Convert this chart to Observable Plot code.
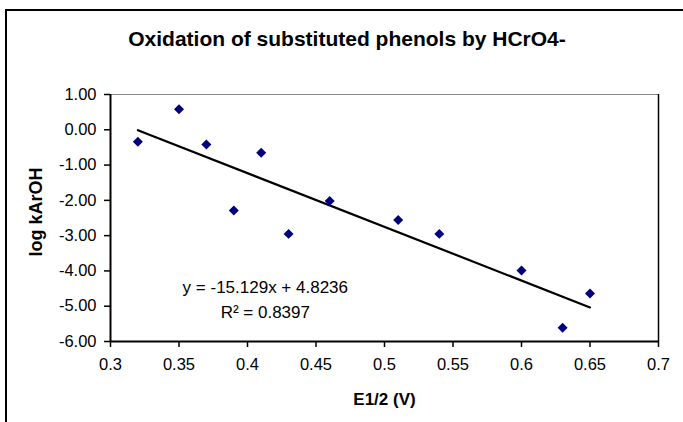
<!DOCTYPE html>
<html>
<head>
<meta charset="utf-8">
<script src="https://cdn.jsdelivr.net/npm/d3@7"></script>
<script src="https://cdn.jsdelivr.net/npm/@observablehq/plot@0.6"></script>
<style>
  html, body { margin: 0; padding: 0; background: #fff; }
  #chart { width: 683px; height: 422px; overflow: hidden; }
  svg { font-family: "Liberation Sans", Arial, sans-serif; }
</style>
</head>
<body>
<div id="chart"></div>
<script>
// Data
const potentials = [0.32, 0.35, 0.37, 0.39, 0.41, 0.43, 0.46, 0.51, 0.54, 0.60, 0.63, 0.65];
const logK       = [-0.34, 0.58, -0.42, -2.29, -0.65, -2.95, -2.02, -2.56, -2.95, -3.99, -5.61, -4.64];
const xTicks = [0.3, 0.35, 0.4, 0.45, 0.5, 0.55, 0.6, 0.65, 0.7];
const yTicks = [1, 0, -1, -2, -3, -4, -5, -6];
const titleText = "Oxidation of substituted phenols by HCrO4-";
const equationText = "y = -15.129x + 4.8236";
const r2Text = "R² = 0.8397";

const data = potentials.map((x, i) => ({x, y: logK[i]}));

const plot = Plot.plot({
  width: 683,
  height: 422,
  marginLeft: 110,
  marginRight: 25,
  marginTop: 94,
  marginBottom: 81,
  style: {fontFamily: "'Liberation Sans', Arial, sans-serif", fontSize: "16px", background: "#fff", color: "#000"},
  x: {domain: [0.3, 0.7]},
  y: {domain: [-6, 1]},
  marks: [
    Plot.ruleY([1], {stroke: "#888", strokeWidth: 1.2}),
    Plot.ruleX([0.7], {stroke: "#000", strokeWidth: 1.5}),
    Plot.axisX({ticks: xTicks, tickFormat: d => String(+d.toFixed(2)), tickSize: 6, tickPadding: 11,
      strokeWidth: 1.5, label: null, fontSize: 16.5}),
    Plot.axisY({ticks: yTicks, tickFormat: d => d.toFixed(2), tickSize: 6, tickPadding: 8,
      strokeWidth: 1.5, label: null, fontSize: 16.5}),
    Plot.text(["E1/2 (V)"], {frameAnchor: "bottom", dy: 63, text: d => d, fontSize: 17, fontWeight: "bold", fill: "#000"}),
    Plot.text(["log kArOH"], {frameAnchor: "left", dx: -74, dy: -6, rotate: -90, textAnchor: "middle", lineAnchor: "middle",
      text: d => d, fontSize: 18, fontWeight: "bold", fill: "#000"}),
    Plot.ruleX([0.3], {stroke: "#000", strokeWidth: 2}),
    Plot.ruleY([-6], {stroke: "#000", strokeWidth: 2}),
    Plot.linearRegressionY(data, {x: "x", y: "y", stroke: "#000", strokeWidth: 2.2, ci: 0}),
    Plot.dot(data, {x: "x", y: "y", symbol: "diamond2", r: 4.5, fill: "#000080", stroke: "none"}),
    Plot.text([equationText], {x: 0.413, y: -4.47, text: d => d, fontSize: 17, fill: "#000"}),
    Plot.text([r2Text], {x: 0.413, y: -5.18, text: d => d, fontSize: 17, fill: "#000"})
  ]
});

const svg = d3.select(plot);
// outer chart border
svg.insert("rect", ":first-child")
  .attr("x", 6).attr("y", 10).attr("width", 800).attr("height", 600)
  .attr("fill", "none").attr("stroke", "#000").attr("stroke-width", 2);
// chart title
svg.append("text")
  .attr("x", 347).attr("y", 46)
  .attr("text-anchor", "middle")
  .attr("font-weight", "bold")
  .attr("font-size", "21px")
  .attr("fill", "#000")
  .text(titleText);

document.getElementById("chart").appendChild(plot);
</script>
</body>
</html>
